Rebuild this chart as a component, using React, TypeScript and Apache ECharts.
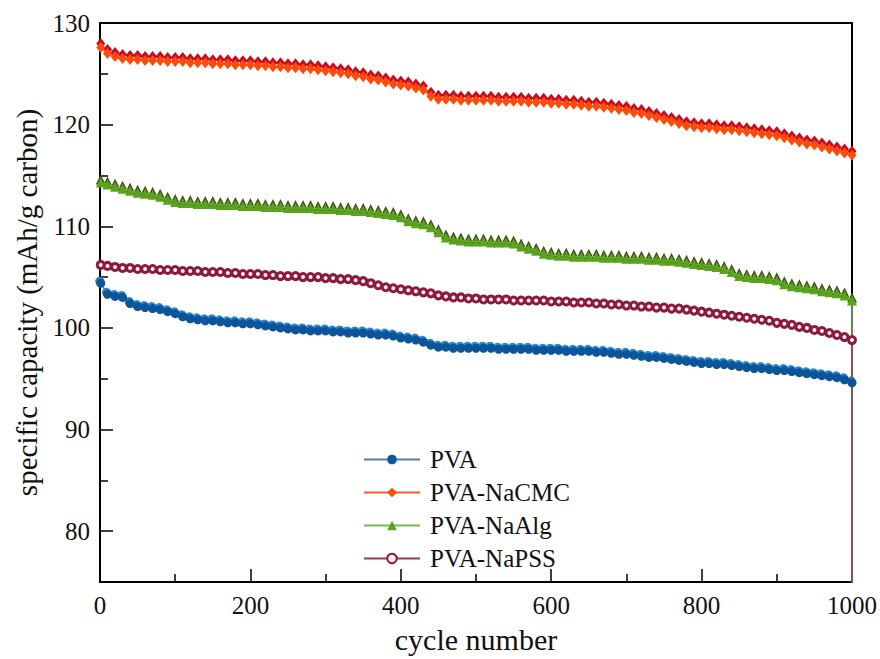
import React, { useEffect, useRef } from "react";
import * as echarts from "echarts";

// cycle numbers of the sampled points (cycle 1, then every 10 cycles)
const CYCLES: number[] = [1, ...Array.from({ length: 100 }, (_, i) => (i + 1) * 10)];

const PVA: number[] = [
  104.4,
  103.3, 103.1, 103.0, 102.4, 102.1,
  102.0, 101.9, 101.8, 101.6, 101.4,
  101.1, 100.9, 100.8, 100.7, 100.7,
  100.6, 100.5, 100.5, 100.4, 100.4,
  100.3, 100.2, 100.1, 100.0, 99.9,
  99.8, 99.8, 99.7, 99.7, 99.7,
  99.6, 99.6, 99.5, 99.5, 99.5,
  99.4, 99.3, 99.3, 99.2, 99.0,
  98.9, 98.8, 98.6, 98.3, 98.1,
  98.1, 98.0, 98.0, 98.0, 98.0,
  98.0, 98.0, 97.9, 97.9, 97.9,
  97.9, 97.9, 97.8, 97.8, 97.8,
  97.8, 97.7, 97.7, 97.7, 97.7,
  97.6, 97.6, 97.5, 97.4, 97.4,
  97.3, 97.2, 97.1, 97.1, 97.0,
  96.9, 96.8, 96.7, 96.6, 96.5,
  96.5, 96.4, 96.4, 96.3, 96.2,
  96.1, 96.0, 96.0, 95.9, 95.8,
  95.8, 95.7, 95.6, 95.5, 95.4,
  95.3, 95.2, 95.1, 94.9, 94.6,
];

const NACMC: number[] = [
  127.6,
  127.0, 126.7, 126.5, 126.4, 126.4,
  126.3, 126.3, 126.3, 126.2, 126.2,
  126.2, 126.1, 126.1, 126.1, 126.0,
  126.0, 126.0, 125.9, 125.9, 125.9,
  125.8, 125.8, 125.7, 125.7, 125.6,
  125.6, 125.5, 125.5, 125.4, 125.3,
  125.2, 125.1, 125.0, 124.8, 124.7,
  124.5, 124.4, 124.2, 124.0, 123.9,
  123.8, 123.6, 123.4, 122.8, 122.5,
  122.5, 122.5, 122.4, 122.4, 122.4,
  122.4, 122.4, 122.3, 122.3, 122.3,
  122.3, 122.2, 122.2, 122.2, 122.1,
  122.1, 122.0, 122.0, 121.9, 121.8,
  121.8, 121.7, 121.6, 121.5, 121.4,
  121.2, 121.1, 120.9, 120.7, 120.5,
  120.3, 120.1, 119.9, 119.8, 119.7,
  119.7, 119.6, 119.5, 119.5, 119.4,
  119.3, 119.2, 119.1, 119.0, 118.9,
  118.7, 118.5, 118.3, 118.1, 118.0,
  117.8, 117.6, 117.4, 117.2, 117.0,
];

const NAALG: number[] = [
  114.3,
  114.1, 113.9, 113.7, 113.5, 113.3,
  113.2, 113.1, 112.9, 112.6, 112.4,
  112.3, 112.3, 112.2, 112.2, 112.2,
  112.1, 112.1, 112.1, 112.0, 112.0,
  112.0, 111.9, 111.9, 111.9, 111.8,
  111.8, 111.8, 111.8, 111.7, 111.7,
  111.7, 111.6, 111.6, 111.5, 111.5,
  111.4, 111.3, 111.2, 111.1, 110.9,
  110.5, 110.3, 110.2, 109.9, 109.4,
  108.9, 108.7, 108.6, 108.5, 108.5,
  108.5, 108.4, 108.4, 108.4, 108.3,
  108.0, 107.8, 107.6, 107.3, 107.2,
  107.1, 107.1, 107.0, 107.0, 107.0,
  107.0, 106.9, 106.9, 106.9, 106.8,
  106.8, 106.8, 106.7, 106.7, 106.6,
  106.6, 106.5, 106.4, 106.3, 106.2,
  106.1, 106.0, 105.8, 105.5, 105.1,
  105.0, 104.9, 104.9, 104.8, 104.7,
  104.3, 104.1, 104.0, 103.9, 103.8,
  103.6, 103.5, 103.4, 103.2, 102.7,
];

const NAPSS: number[] = [
  106.2,
  106.1, 106.0, 105.9, 105.9, 105.8,
  105.8, 105.8, 105.7, 105.7, 105.7,
  105.6, 105.6, 105.6, 105.5, 105.5,
  105.5, 105.4, 105.4, 105.3, 105.3,
  105.3, 105.2, 105.2, 105.1, 105.1,
  105.1, 105.0, 105.0, 105.0, 104.9,
  104.9, 104.8, 104.8, 104.7, 104.6,
  104.4, 104.2, 104.0, 103.9, 103.8,
  103.7, 103.6, 103.5, 103.4, 103.2,
  103.1, 103.0, 103.0, 102.9, 102.9,
  102.8, 102.8, 102.8, 102.8, 102.7,
  102.7, 102.7, 102.7, 102.7, 102.6,
  102.6, 102.6, 102.5, 102.5, 102.5,
  102.4, 102.4, 102.3, 102.3, 102.2,
  102.2, 102.1, 102.1, 102.0, 102.0,
  101.9, 101.9, 101.8, 101.7, 101.6,
  101.5, 101.4, 101.3, 101.2, 101.1,
  101.0, 100.9, 100.8, 100.7, 100.5,
  100.4, 100.3, 100.1, 100.0, 99.8,
  99.7, 99.5, 99.3, 99.1, 98.8,
];

// final recorded point at cycle 1000 that falls off the bottom of the axis
const TAIL_CYCLE = 1000;
const TAIL_VALUE = 0;

const Y_TICKS: number[] = [80, 90, 100, 110, 120, 130];
const Y_MINOR_TICKS: number[] = [85, 95, 105, 115, 125];

const FONT = "'Liberation Serif', 'Times New Roman', serif";

function pairs(vals: number[], tail: boolean): [number, number][] {
  const d: [number, number][] = vals.map((v, i) => [CYCLES[i], v]);
  if (tail) d.push([TAIL_CYCLE, TAIL_VALUE]);
  return d;
}

export default function App() {
  const ref = useRef<HTMLDivElement>(null);
  useEffect(() => {
    document.body.style.margin = "0";
    if (!ref.current) return;
    const chart = echarts.init(ref.current, undefined, { renderer: "svg" });
    const shadow = (name: string, vals: number[], symbol: string, size: any, color: string, offset: number[]) => ({
      name,
      type: "line",
      data: pairs(vals, false),
      symbol,
      symbolSize: size,
      symbolOffset: offset,
      showSymbol: true,
      itemStyle: { color },
      lineStyle: { opacity: 0 },
      silent: true,
      z: 1,
    });
    const main = (name: string, vals: number[], symbol: string, size: any, color: string, lineColor: string, tail: boolean) => ({
      name,
      type: "line",
      data: pairs(vals, tail),
      symbol,
      symbolSize: size,
      showSymbol: true,
      itemStyle: { color },
      lineStyle: { color: lineColor, width: 1.5 },
      z: 2,
    });
    chart.setOption({
      animation: false,
      backgroundColor: "#ffffff",
      textStyle: { fontFamily: FONT },
      grid: {
        left: 100,
        right: 27,
        top: 23,
        bottom: 71,
        show: true,
        borderColor: "#000",
        borderWidth: 2,
        backgroundColor: "transparent",
      },
      legend: {
        data: ["PVA", "PVA-NaCMC", "PVA-NaAlg", "PVA-NaPSS"],
        orient: "vertical",
        left: 358,
        top: 442,
        itemWidth: 56,
        itemHeight: 12,
        itemGap: 8,
        textStyle: { fontFamily: FONT, fontSize: 25, color: "#111", padding: [0, 0, 0, 5] },
      },
      xAxis: {
        type: "value",
        min: 0,
        max: 1000,
        interval: 200,
        name: "cycle number",
        nameLocation: "middle",
        nameGap: 42,
        nameTextStyle: { fontFamily: FONT, fontSize: 30, color: "#111" },
        axisLine: { show: true, lineStyle: { color: "#000", width: 2 } },
        axisTick: { show: true, inside: true, length: 13, lineStyle: { color: "#000", width: 1.5 } },
        minorTick: { show: true, splitNumber: 2, length: 8, lineStyle: { color: "#000", width: 1.5 } },
        axisLabel: { fontFamily: FONT, fontSize: 25, color: "#111", margin: 11, formatter: (v: number) => String(v) },
        splitLine: { show: false },
      },
      yAxis: [
        {
          type: "value",
          min: 75,
          max: 130,
          name: "specific capacity (mAh/g carbon)",
          nameLocation: "middle",
          nameGap: 57,
          nameTextStyle: { fontFamily: FONT, fontSize: 29, color: "#111" },
          axisLine: { show: true, lineStyle: { color: "#000", width: 2 } },
          axisTick: { show: true, inside: true, length: 13, customValues: Y_TICKS, lineStyle: { color: "#000", width: 1.5 } },
          axisLabel: { fontFamily: FONT, fontSize: 25, color: "#111", margin: 10, customValues: Y_TICKS, formatter: (v: number) => String(v) },
          splitLine: { show: false },
        },
        {
          type: "value",
          min: 75,
          max: 130,
          position: "left",
          axisLine: { show: false },
          axisTick: { show: true, inside: true, length: 8, customValues: Y_MINOR_TICKS, lineStyle: { color: "#000", width: 1.5 } },
          axisLabel: { show: false },
          splitLine: { show: false },
        },
      ],
      series: [
        shadow("PVA shadow", PVA, "circle", 9, "#2a86d6", [-1, -2]),
        shadow("PVA-NaCMC shadow", NACMC, "diamond", [9, 11], "#cc0a1e", [0, -4]),
        shadow("PVA-NaAlg shadow", NAALG, "triangle", 10, "#3d5410", [0, -3]),
        main("PVA", PVA, "circle", 9, "#0b5598", "#4d7fb3", false),
        main("PVA-NaCMC", NACMC, "diamond", [9, 11], "#ff4a0a", "#ff5a2a", false),
        main("PVA-NaAlg", NAALG, "triangle", 10, "#5aa41c", "#78b85a", true),
        {
          name: "PVA-NaPSS",
          type: "line",
          data: pairs(NAPSS, true),
          symbol: "circle",
          symbolSize: 7,
          showSymbol: true,
          itemStyle: { color: "#fbeef2", borderColor: "#8c1a3e", borderWidth: 3 },
          lineStyle: { color: "#9a3a58", width: 1.5 },
          z: 2,
        },
      ],
    });
    return () => chart.dispose();
  }, []);
  return <div ref={ref} style={{ width: 880, height: 659 }} />;
}
